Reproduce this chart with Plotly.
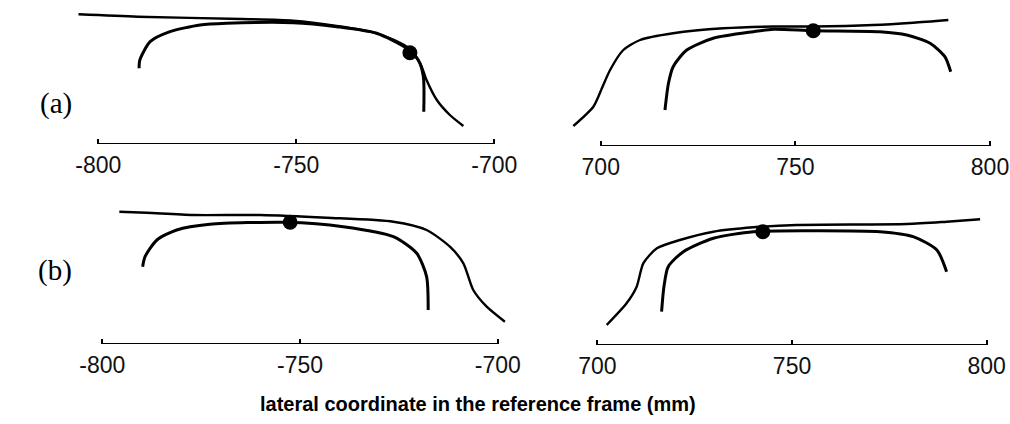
import plotly.graph_objects as go

W, H = 1010, 424

# ---- (a) left side ----
a_left_outer_x = [-805, -790, -763.8, -750.8, -739.8, -729.7, -722.1, -718.7, -717.1, -714.5, -711.2, -707.8]
a_left_outer_y = [129.7, 127.3, 125, 123.3, 118, 110.7, 97.3, 80.7, 64, 44, 29, 18]
a_left_inner_x = [-789.7, -789.5, -786.9, -781.9, -774.3, -767.6, -750.8, -739.8, -729.7, -722.1, -719.2, -717.9, -717.8]
a_left_inner_y = [75.7, 84, 102.3, 112.3, 119, 120.7, 121.3, 117.3, 110.7, 95.7, 84, 67.3, 32.3]
a_left_dot = (-721.3, 91.3)

# ---- (a) right side ----
a_right_outer_x = [692.96, 698.1, 700.3, 702.4, 705.8, 710.1, 718.6, 731.5, 744.3, 754.6, 770, 780.3, 789.3]
a_right_outer_y = [20, 39.3, 57.7, 76, 96, 106, 112.7, 117.7, 119.5, 119.5, 121, 123.3, 126]
a_right_inner_x = [716.5, 717.4, 718.6, 722.1, 728.9, 739.2, 744.3, 754.6, 771.7, 778.6, 784.6, 788.4, 789.9]
a_right_inner_y = [36, 62.7, 79.3, 96, 107.7, 114.3, 116.7, 115.3, 114.3, 111, 102.7, 89.3, 74.3]
a_right_dot = (754.6, 115.3)

# ---- (b) left side ----
b_left_outer_x = [-795.7, -788.8, -777, -760.1, -743.2, -726.4, -718, -712.1, -708.7, -706.2, -702.8, -698.2]
b_left_outer_y = [132.3, 131.3, 129, 129, 126.3, 122.3, 114, 97.3, 80.7, 54, 37.3, 22.3]
b_left_inner_x = [-789.8, -789.2, -786.2, -781.2, -772.8, -753.4, -739.1, -726.4, -720.5, -718, -717.6]
b_left_inner_y = [77.3, 87.3, 104, 114, 119.7, 121.7, 117.3, 107.3, 90.7, 67.3, 34]
b_left_dot = (-752.5, 121.7)

# ---- (b) right side ----
b_right_outer_x = [702.4, 707.5, 710.1, 711.8, 715.3, 721.2, 729.8, 740.1, 751.2, 779.5, 789.7, 798.3]
b_right_outer_y = [20, 41.7, 58.3, 81.7, 96.7, 105, 113.3, 117.7, 120, 121, 123.3, 125.7]
b_right_inner_x = [716.5, 717.1, 718.2, 722.1, 729.8, 740.1, 753.8, 772.6, 781.1, 787.2, 789.7]
b_right_inner_y = [33.3, 58.3, 78.3, 93.3, 106.7, 113.3, 114.3, 113.3, 108.3, 95, 73.3]
b_right_dot = (742.5, 113.3)

left_ticks = [-800, -750, -700]
right_ticks = [700, 750, 800]
axis_title = "lateral coordinate in the reference frame (mm)"
row_labels = ["(a)", "(b)"]

panels = [
    # outer x, outer y, inner x, inner y, dot, ticks, x range, pixel box (left, right, top, bottom)
    (a_left_outer_x, a_left_outer_y, a_left_inner_x, a_left_inner_y, a_left_dot, left_ticks, [-808, -694], (66.6, 518.0, 4, 144)),
    (a_right_outer_x, a_right_outer_y, a_right_inner_x, a_right_inner_y, a_right_dot, right_ticks, [691, 802], (565.7, 997.8, 6, 146)),
    (b_left_outer_x, b_left_outer_y, b_left_inner_x, b_left_inner_y, b_left_dot, left_ticks, [-808, -694], (70.7, 521.5, 204, 344)),
    (b_right_outer_x, b_right_outer_y, b_right_inner_x, b_right_inner_y, b_right_dot, right_ticks, [691, 802], (562.3, 994.5, 205, 345)),
]

fig = go.Figure()
layout = {}
shapes = []
for i, (ox, oy, ix, iy, dot, ticks, xr, box) in enumerate(panels, start=1):
    xa = "x" if i == 1 else f"x{i}"
    ya = "y" if i == 1 else f"y{i}"
    fig.add_trace(go.Scatter(x=ox, y=oy, mode="lines", xaxis=xa, yaxis=ya,
                             line=dict(color="black", width=2.4, shape="spline", smoothing=0.7),
                             hoverinfo="skip", showlegend=False))
    fig.add_trace(go.Scatter(x=ix, y=iy, mode="lines", xaxis=xa, yaxis=ya,
                             line=dict(color="black", width=3, shape="spline", smoothing=0.7),
                             hoverinfo="skip", showlegend=False))
    fig.add_trace(go.Scatter(x=[dot[0]], y=[dot[1]], mode="markers", xaxis=xa, yaxis=ya,
                             marker=dict(color="black", size=15),
                             hoverinfo="skip", showlegend=False))
    left, right, top, bottom = box
    layout[f"xaxis{'' if i == 1 else i}"] = dict(
        domain=[left / W, right / W], range=xr, anchor=ya, automargin=False,
        tickvals=ticks, ticktext=[str(t) for t in ticks],
        ticks="inside", ticklen=5, tickwidth=2, tickcolor="black",
        showline=False, showgrid=False, zeroline=False,
        tickfont=dict(family="Liberation Sans", size=23, color="#111"),
        ticklabelstandoff=5,
    )
    layout[f"yaxis{'' if i == 1 else i}"] = dict(
        domain=[(H - bottom) / H, (H - top) / H], range=[0, 140], anchor=xa,
        visible=False, automargin=False,
    )
    # axis baseline spanning only the labelled interval
    shapes.append(dict(type="line", xref=xa, yref=ya, x0=ticks[0], x1=ticks[-1], y0=0, y1=0,
                       line=dict(color="black", width=2)))

annotations = [
    dict(text=row_labels[0], x=56 / W, y=(H - 104) / H, xref="paper", yref="paper",
         showarrow=False, xanchor="center", yanchor="middle",
         font=dict(family="Liberation Serif", size=29, color="black")),
    dict(text=row_labels[1], x=55 / W, y=(H - 270) / H, xref="paper", yref="paper",
         showarrow=False, xanchor="center", yanchor="middle",
         font=dict(family="Liberation Serif", size=29, color="black")),
    dict(text=f"<b>{axis_title}</b>", x=478 / W, y=(H - 404) / H, xref="paper", yref="paper",
         showarrow=False, xanchor="center", yanchor="middle",
         font=dict(family="Liberation Sans", size=20, color="black")),
]

fig.update_layout(
    width=W, height=H, margin=dict(l=0, r=0, t=0, b=0, pad=0),
    paper_bgcolor="white", plot_bgcolor="white",
    shapes=shapes, annotations=annotations, **layout,
)

fig.write_html("out.html")
